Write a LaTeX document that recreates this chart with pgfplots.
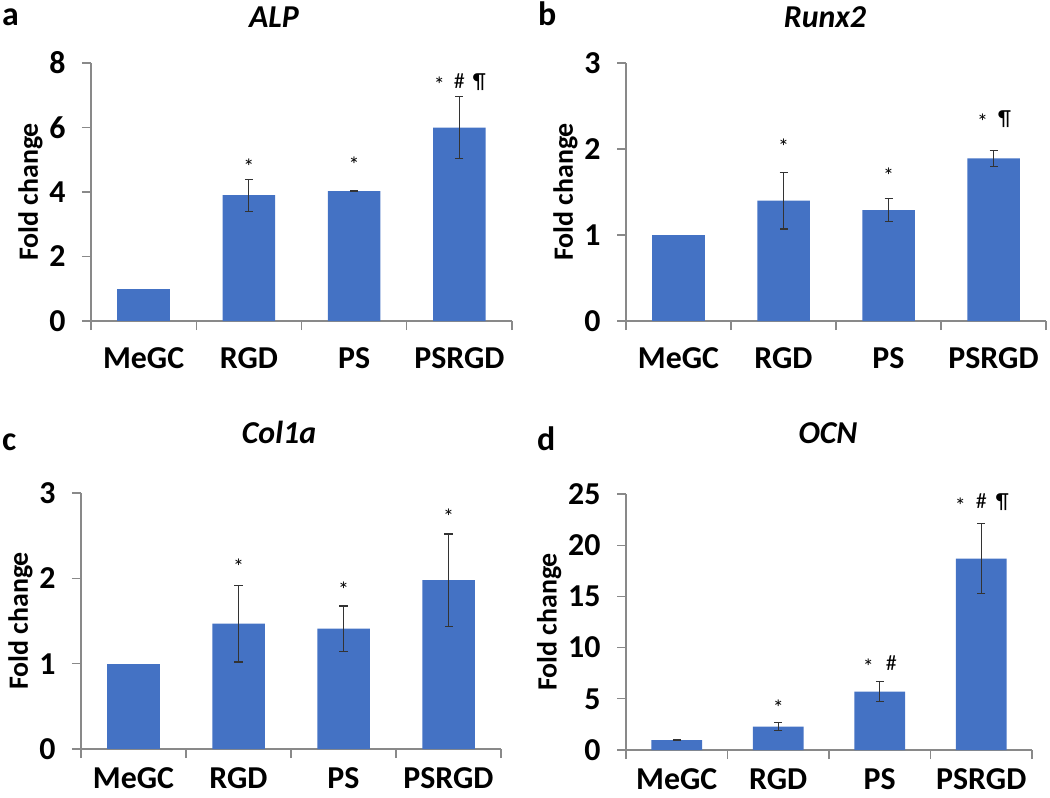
\documentclass[border=0pt]{standalone}
\usepackage{fontspec}
\setmainfont{Carlito}
\usepackage{pgfplots}
\pgfplotsset{compat=1.18}
\definecolor{barblue}{HTML}{4472C4}
\definecolor{axgray}{HTML}{898989}
\definecolor{errc}{HTML}{333333}
\pgfplotsset{panel/.style={
  scale only axis, ybar, bar width=0.5, bar shift=0pt,
  xmin=-0.5, xmax=3.5, ymin=0,
  axis x line*=bottom, axis y line*=left,
  axis line style={draw=axgray, line width=1.2bp},
  every tick/.style={draw=axgray, line width=1.2bp},
  tick align=outside,
  xtick={0,1,2,3}, xticklabels={MeGC,RGD,PS,PSRGD},
  major x tick style={draw=none},
  minor xtick={-0.5,0.5,1.5,2.5,3.5},
  major tick length=9bp, minor tick length=9bp,
  tick label style={font=\fontsize{32}{34}\selectfont\bfseries},
  yticklabel style={xshift=-13bp},
  xticklabel style={yshift=-14bp},
  /pgf/number format/assume math mode=true,
  ylabel={Fold change}, ylabel style={font=\fontsize{28}{32}\selectfont\bfseries},
  clip=false,
},
lowpanel/.style={xticklabel style={yshift=8bp}},
plainbar/.style={fill=barblue, draw=none},
barplot/.style={fill=barblue, draw=none,
  error bars/.cd, y dir=both, y explicit,
  error bar style={errc, line width=1.2bp},
  error mark options={errc, line width=1.2bp, mark size=4bp, rotate=90}},
}
\newcommand{\sig}{\raisebox{-4.5bp}{*}}
\tikzset{anno/.style={font=\fontsize{22}{24}\selectfont, anchor=base, inner sep=0pt, yshift=-7bp},
  ttl/.style={anchor=base, font=\fontsize{32}{36}\selectfont\bfseries\itshape},
  plab/.style={anchor=base west, inner sep=0pt, font=\fontsize{34}{38}\selectfont\bfseries}}
\begin{document}
\begin{tikzpicture}
\useasboundingbox (0,0) rectangle (1050bp,-798bp);
% a
\begin{axis}[panel, at={(91bp,-321bp)}, anchor=south west, width=421bp, height=258bp,
  ymax=8, ytick={0,2,4,6,8}]
\addplot[plainbar] coordinates {(0,1.00)};
\addplot[barplot] table[x=x, y=y, y error=e] {
x y e
1 3.90 0.50
2 4.03 0.02
3 6.00 0.95
};
\node[anno] at (axis cs:1,4.89) {\sig};
\node[anno] at (axis cs:2,4.95) {\sig};
\node[anno] at (axis cs:3,7.43) {\makebox[20bp]{\sig}\makebox[20bp]{\#}\makebox[20bp]{¶}};
\end{axis}
% b
\begin{axis}[panel, at={(626bp,-321bp)}, anchor=south west, width=420bp, height=258bp,
  ymax=3, ytick={0,1,2,3}]
\addplot[plainbar] coordinates {(0,1.00)};
\addplot[barplot] table[x=x, y=y, y error=e] {
x y e
1 1.40 0.33
2 1.29 0.135
3 1.89 0.09
};
\node[anno] at (axis cs:1,2.07) {\sig};
\node[anno] at (axis cs:2,1.73) {\sig};
\node[anno] at (axis cs:3,2.36) {\makebox[22bp]{\sig}\makebox[22bp]{¶}};
\end{axis}
% c
\begin{axis}[panel, lowpanel, at={(81bp,-749bp)}, anchor=south west, width=420bp, height=256bp,
  ymax=3, ytick={0,1,2,3}]
\addplot[plainbar] coordinates {(0,1.00)};
\addplot[barplot] table[x=x, y=y, y error=e] {
x y e
1 1.47 0.45
2 1.41 0.265
3 1.98 0.54
};
\node[anno] at (axis cs:1,2.18) {\sig};
\node[anno] at (axis cs:2,1.905) {\sig};
\node[anno] at (axis cs:3,2.77) {\sig};
\end{axis}
% d
\begin{axis}[panel, lowpanel, at={(626bp,-750bp)}, anchor=south west, width=406bp, height=256bp,
  ymax=25, ytick={0,5,10,15,20,25}]
\addplot[barplot] table[x=x, y=y, y error=e] {
x y e
0 0.97 0.05
1 2.28 0.37
2 5.70 1.00
3 18.70 3.40
};
\node[anno] at (axis cs:1,4.49) {\sig};
\node[anno] at (axis cs:2,8.46) {\makebox[23bp]{\sig}\makebox[23bp]{\#}};
\node[anno] at (axis cs:3,24.25) {\makebox[21bp]{\sig}\makebox[21bp]{\#}\makebox[21bp]{¶}};
\end{axis}
\node[ttl] at (274bp,-27bp) {ALP};
\node[ttl] at (825bp,-27bp) {Runx2};
\node[ttl] at (279bp,-443bp) {Col1a};
\node[ttl] at (828bp,-443bp) {OCN};
\node[plab] at (2bp,-25bp) {a};
\node[plab] at (538bp,-25bp) {b};
\node[plab] at (2bp,-450bp) {c};
\node[plab] at (537bp,-450bp) {d};
\end{tikzpicture}
\end{document}
